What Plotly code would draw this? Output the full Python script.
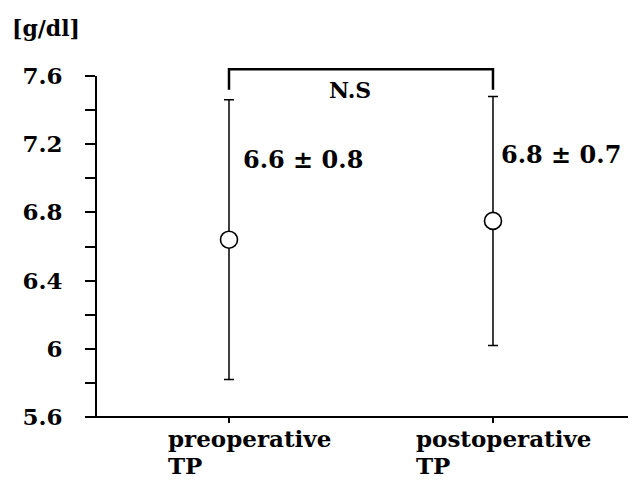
import plotly.graph_objects as go

# ---- data ----
categories = ["preoperative<br>TP", "postoperative<br>TP"]
means = [6.64, 6.75]
sd_values = [0.82, 0.73]
stat_labels = ["6.6 ± 0.8", "6.8 ± 0.7"]
stat_label_y = [7.11, 7.14]
y_tick_vals = [5.6, 6.0, 6.4, 6.8, 7.2, 7.6]
y_tick_text = ["5.6", "6", "6.4", "6.8", "7.2", "7.6"]
y_minor_vals = [5.8, 6.2, 6.6, 7.0, 7.4]
y_range = [5.6, 7.6]
bracket_top = 7.64
bracket_bottom = 7.52
sig_text = "N.S"
unit_text = "[g/dl]"

FONT = "DejaVu Serif"
OFF = 8  # default page body margin
W, H = 636 - OFF, 481 - OFF
L, R, T = 97 - OFF, 0, 76 - OFF
plot_bottom = 417 - OFF
B = H - plot_bottom
plot_w = W - L - R
plot_h = H - T - B

fig = go.Figure()
fig.add_trace(go.Scatter(
    x=[0, 1], y=means, mode="markers",
    marker=dict(size=17, color="white", line=dict(color="black", width=1.6)),
    error_y=dict(type="data", array=sd_values, visible=True, color="black",
                 thickness=1.5, width=5),
    showlegend=False, hoverinfo="skip", cliponaxis=False,
))

def to_paper(v):
    return (v - y_range[0]) / (y_range[1] - y_range[0])

shapes = []
shapes.append(dict(type="line", xref="paper", yref="paper", x0=-10 / plot_w, x1=1,
                   y0=0, y1=0, line=dict(color="black", width=2)))
bt, bb = to_paper(bracket_top), to_paper(bracket_bottom)
shapes.append(dict(type="path", xref="x", yref="paper",
                   path=f"M 0 {bb} L 0 {bt} L 1 {bt} L 1 {bb}",
                   line=dict(color="black", width=2.5)))

bold = lambda s: dict(family=FONT, size=s, color="black", weight="bold")

annotations = []
stat_shift = [12, 6]
for i, lab in enumerate(stat_labels):
    annotations.append(dict(x=i, y=stat_label_y[i], xref="x", yref="y", text=lab,
                            showarrow=False, xanchor="left", yanchor="middle",
                            xshift=stat_shift[i], font=bold(24)))
cat_shift = [-63, -79]
line_y = [-21, -48]
for i, cat in enumerate(categories):
    for j, part in enumerate(cat.split("<br>")):
        annotations.append(dict(x=i, y=0, xref="x", yref="paper", text=part,
                                showarrow=False, xanchor="left", yanchor="middle",
                                xshift=cat_shift[i], yshift=line_y[j], font=bold(23)))
annotations.append(dict(x=0.46, y=bracket_bottom, xref="x", yref="y", text=sig_text,
                        showarrow=False, xanchor="center", yanchor="middle",
                        font=bold(22)))
annotations.append(dict(x=(10 - OFF - L) / plot_w, y=1 + (T - (28 - OFF)) / plot_h,
                        xref="paper", yref="paper", xanchor="left", yanchor="middle",
                        showarrow=False, text=unit_text, font=bold(22)))

fig.update_layout(
    width=W, height=H,
    margin=dict(l=L, r=R, t=T, b=B, pad=0),
    plot_bgcolor="white", paper_bgcolor="white",
    shapes=shapes, annotations=annotations,
    xaxis=dict(range=[-0.5, 1.5417], showgrid=False, zeroline=False, showline=False,
               tickvals=[0, 1], ticktext=["", ""], ticks="outside", ticklen=5,
               tickwidth=1.5, tickcolor="black", fixedrange=True),
    yaxis=dict(range=y_range, showgrid=False, zeroline=False, showline=True,
               linecolor="black", linewidth=2,
               tickvals=y_tick_vals, ticktext=y_tick_text,
               ticks="outside", ticklen=10, tickwidth=1.5, tickcolor="black",
               ticklabelstandoff=18, tickfont=bold(23),
               minor=dict(tickvals=y_minor_vals, ticks="outside",
                          ticklen=10, tickwidth=1.5, tickcolor="black"),
               fixedrange=True),
)

fig.write_html("out.html")
